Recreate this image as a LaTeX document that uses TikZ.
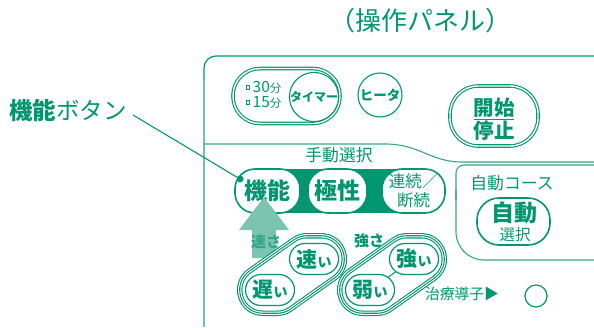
\documentclass[tikz,border=0pt]{standalone}
\usepackage{fontspec}
\newfontfamily\jp{Noto Sans CJK JP}
\definecolor{gr}{RGB}{0,150,112}
\definecolor{grm}{RGB}{50,168,136}
\definecolor{grl}{RGB}{115,194,170}
\definecolor{arr}{RGB}{125,196,176}
\newcommand\fsz[1]{\fontsize{#1}{#1}\selectfont}
\begin{document}
\begin{tikzpicture}[x=1pt,y=-1pt,
  every node/.style={font=\jp, text=gr, inner sep=0pt},
  dbl/.style={draw=gr, double=white, double distance=1.4pt, line width=1.1pt},
  fbtn/.style={draw=gr, line width=1.6pt, fill=white, rounded corners=20pt, minimum height=44pt},
  oval/.style={draw=gr, line width=1.2pt, fill=white, rounded corners=15.5pt, minimum width=49pt, minimum height=31pt},
  thinline/.style={grm, line width=1.1pt}]
\useasboundingbox (0,0) rectangle (594,327);

% title
\node (title) at (420,21) {\fsz{26}（操作パネル）};

% panel frame
\draw[gr, line width=1.2pt, rounded corners=12pt] (204,80) -- (204,56) -- (594,56);
\draw[grl, line width=1.2pt] (204,79) -- (204,327);

% divider
\draw[thinline] (204,144) -- (385,144) .. controls (420,144) and (430,162) .. (462,162) -- (594,162);

% auto course box
\draw[thinline, rounded corners=8pt] (594,165) -- (456,165) -- (456,200);
\draw[thinline, rounded corners=28pt] (456,190) -- (456,260) -- (594,260);

% timer group
\node[dbl, rounded corners=27pt, minimum width=107pt, minimum height=55pt] (timer) at (286.5,96) {};
\node[draw=gr, line width=0.8pt, minimum size=3.5pt] (sq1) at (248,87.5) {};
\node[draw=gr, line width=0.8pt, minimum size=3.5pt] (sq2) at (248,102.5) {};
\node[anchor=west] (t30) at (252.5,87.5) {\fsz{15.5}30\fsz{11.5}分};
\node[anchor=west] (t15) at (252.5,102.5) {\fsz{15.5}15\fsz{11.5}分};
\node[circle, draw=gr, line width=1.1pt, fill=white, minimum size=44pt] (tm) at (314,97) {\bfseries\fsz{12}タイマー};

% heater
\node[circle, draw=gr, line width=1.1pt, minimum size=44pt] (ht) at (380,95) {\bfseries\fsz{13.5}ヒータ};

% start / stop
\node[dbl, rounded corners=28pt, minimum width=88pt, minimum height=60pt] (ss) at (494,116) {};
\node (ss1) at (494,108) {\bfseries\fsz{20.5}開始};
\node (ss2) at (494,131) {\bfseries\fsz{20.5}停止};
\draw[gr, line width=1pt] (474,119.5) -- (514,119.5);

% manual selection
\node (manual) at (339,155) {\fsz{16.8}手動選択};
\fill[gr] (268,169) rectangle (414,213);
\node[fbtn, minimum width=65pt] (kino) at (267.5,191) {\bfseries\fsz{23}機能};
\node[fbtn, minimum width=59pt] (kyoku) at (337.5,191) {\bfseries\fsz{23}極性};
\node[fbtn, minimum width=63pt, align=center, font=\jp\fontsize{16.5}{19}\selectfont] (renz) at (413.5,191) {連続／\\断続};

% leader
\node[anchor=west] (lbl) at (9,110) {\fsz{23.5}\bfseries 機能\mdseries ボタン};
\node[circle, fill=gr, minimum size=7pt] (dot) at (240,179) {};
\coordinate (lstart) at (133,115);
\draw[gr, line width=1.1pt] (lstart) -- (dot);

% arrow
\fill[arr] (264,197) -- (289,230) -- (276,230) -- (276,258) -- (252,258) -- (252,230) -- (239,230) -- cycle;

% capsules
\foreach \dx in {0,100}{
  \foreach \w/\c in {52/gr, 49.8/white, 47.6/gr, 45.4/white, 43.2/gr, 41/white}{
    \filldraw[\c, line width=\w pt, line join=round] ({263+\dx},290) -- ({277+\dx},290) -- ({321+\dx},259) -- ({307+\dx},259) -- cycle;
  }
}
\coordinate (wc) at (370,290);
\coordinate (sc) at (414,259);
\draw[gr, line width=1pt] (wc) -- (sc);
\node[oval] (slow) at (270,290) {\bfseries\fsz{21}遅\fsz{14}い};
\node[oval] (fast) at (314,259) {\bfseries\fsz{21}速\fsz{14}い};
\node[oval] (weak) at (wc) {\bfseries\fsz{21}弱\fsz{14}い};
\node[oval] (strong) at (sc) {\bfseries\fsz{21}強\fsz{14}い};
\node[text=grm] (spd) at (266,242) {\bfseries\fsz{15}速さ};
\node (str) at (369,241) {\bfseries\fsz{15}強さ};

% terminal
\node (chiryo) at (462,294) {\fsz{14.8}治療導子▶};
\node[circle, draw=gr, line width=1.2pt, minimum size=22pt] (term) at (536,296) {};

% auto
\node (autol) at (512,183) {\fsz{16.8}自動コース};
\node[draw=gr, line width=1.6pt, rounded corners=22pt, minimum width=73pt, minimum height=47pt] (autob) at (513.5,221.5) {};
\node (auto1) at (514,213) {\bfseries\fsz{23}自動};
\node (auto2) at (515,235) {\fsz{15.5}選択};
\end{tikzpicture}
\end{document}
